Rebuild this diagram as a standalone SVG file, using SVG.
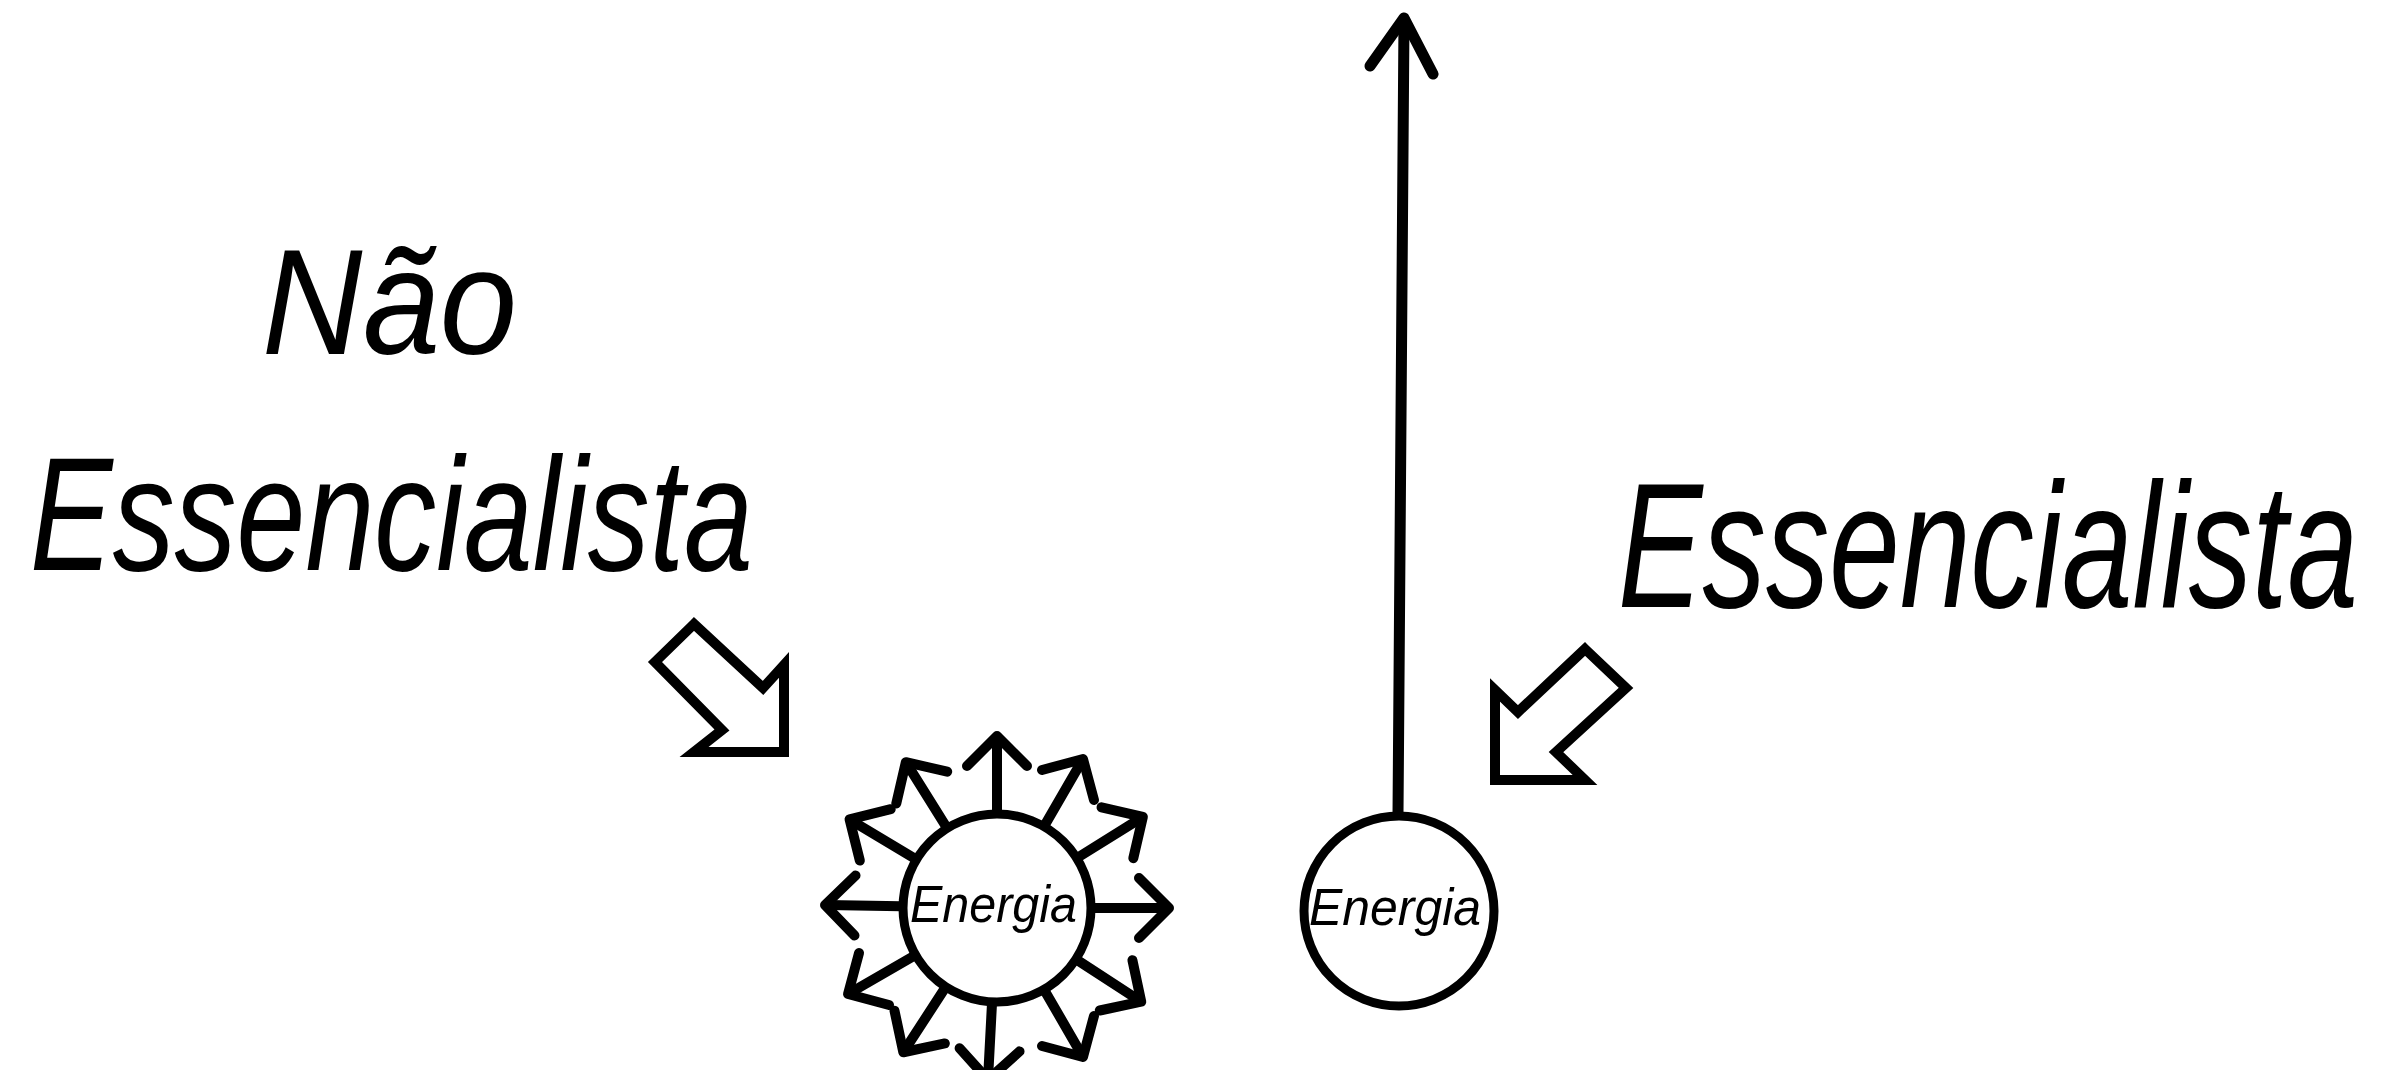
<svg xmlns="http://www.w3.org/2000/svg" width="2386" height="1070" viewBox="0 0 2386 1070">
<style>
.hand{font-family:"Liberation Sans","DejaVu Sans",sans-serif;font-style:italic;fill:#000}
.ink{fill:none;stroke:#000;stroke-linecap:round;stroke-linejoin:round}
.outline{fill:none;stroke:#000;stroke-width:10;stroke-linejoin:miter}
</style>
<defs>
<g id="ray">
<line class="ink" stroke-width="10" x1="0" y1="-96" x2="0" y2="-170"/>
<polyline class="ink" stroke-width="10" points="-30,-142 0,-172 30,-142"/>
</g>
</defs>
<rect width="2386" height="1070" fill="#fff"/>
<g id="label-nao-essencialista">
<text class="hand" x="262" y="354" font-size="150" textLength="255" lengthAdjust="spacingAndGlyphs">Não</text>
<text class="hand" x="30" y="570" font-size="162" textLength="723" lengthAdjust="spacingAndGlyphs">Essencialista</text>
</g>
<g id="label-essencialista">
<text class="hand" transform="translate(1618,607) scale(1,1.42)" x="0" y="0" font-size="125" textLength="740" lengthAdjust="spacingAndGlyphs">Essencialista</text>
</g>
<g id="pointer-left">
<polygon class="outline" points="694,624 655,662 722,730 694,752 784,752 784,665 763,688"/>
</g>
<g id="pointer-right">
<polygon class="outline" points="1585,649 1626,688 1556,752 1585,780 1495,780 1495,690 1518,712"/>
</g>
<g id="node-sun">
<g transform="translate(997,908)">
<use href="#ray" transform="rotate(0)"/>
<use href="#ray" transform="rotate(30)"/>
<use href="#ray" transform="rotate(58)"/>
<use href="#ray" transform="rotate(90)"/>
<use href="#ray" transform="rotate(123)"/>
<use href="#ray" transform="rotate(150)"/>
<use href="#ray" transform="rotate(183)"/>
<use href="#ray" transform="rotate(213)"/>
<use href="#ray" transform="rotate(240)"/>
<use href="#ray" transform="rotate(271)"/>
<use href="#ray" transform="rotate(301)"/>
<use href="#ray" transform="rotate(328)"/>
</g>
<circle cx="997" cy="908" r="94" fill="#fff" stroke="#000" stroke-width="9"/>
<text class="hand" x="910" y="922" font-size="52" textLength="167" lengthAdjust="spacingAndGlyphs">Energia</text>
</g>
<g id="node-essencialista">
<circle cx="1399" cy="911" r="95" fill="#fff" stroke="#000" stroke-width="9"/>
<text class="hand" x="1309" y="925" font-size="52" textLength="172" lengthAdjust="spacingAndGlyphs">Energia</text>
</g>
<g id="connectors">
<line class="ink" stroke-width="11" x1="1398" y1="814" x2="1404" y2="20"/>
<polyline class="ink" stroke-width="11" points="1370,66 1404,18 1433,74"/>
</g>
</svg>
